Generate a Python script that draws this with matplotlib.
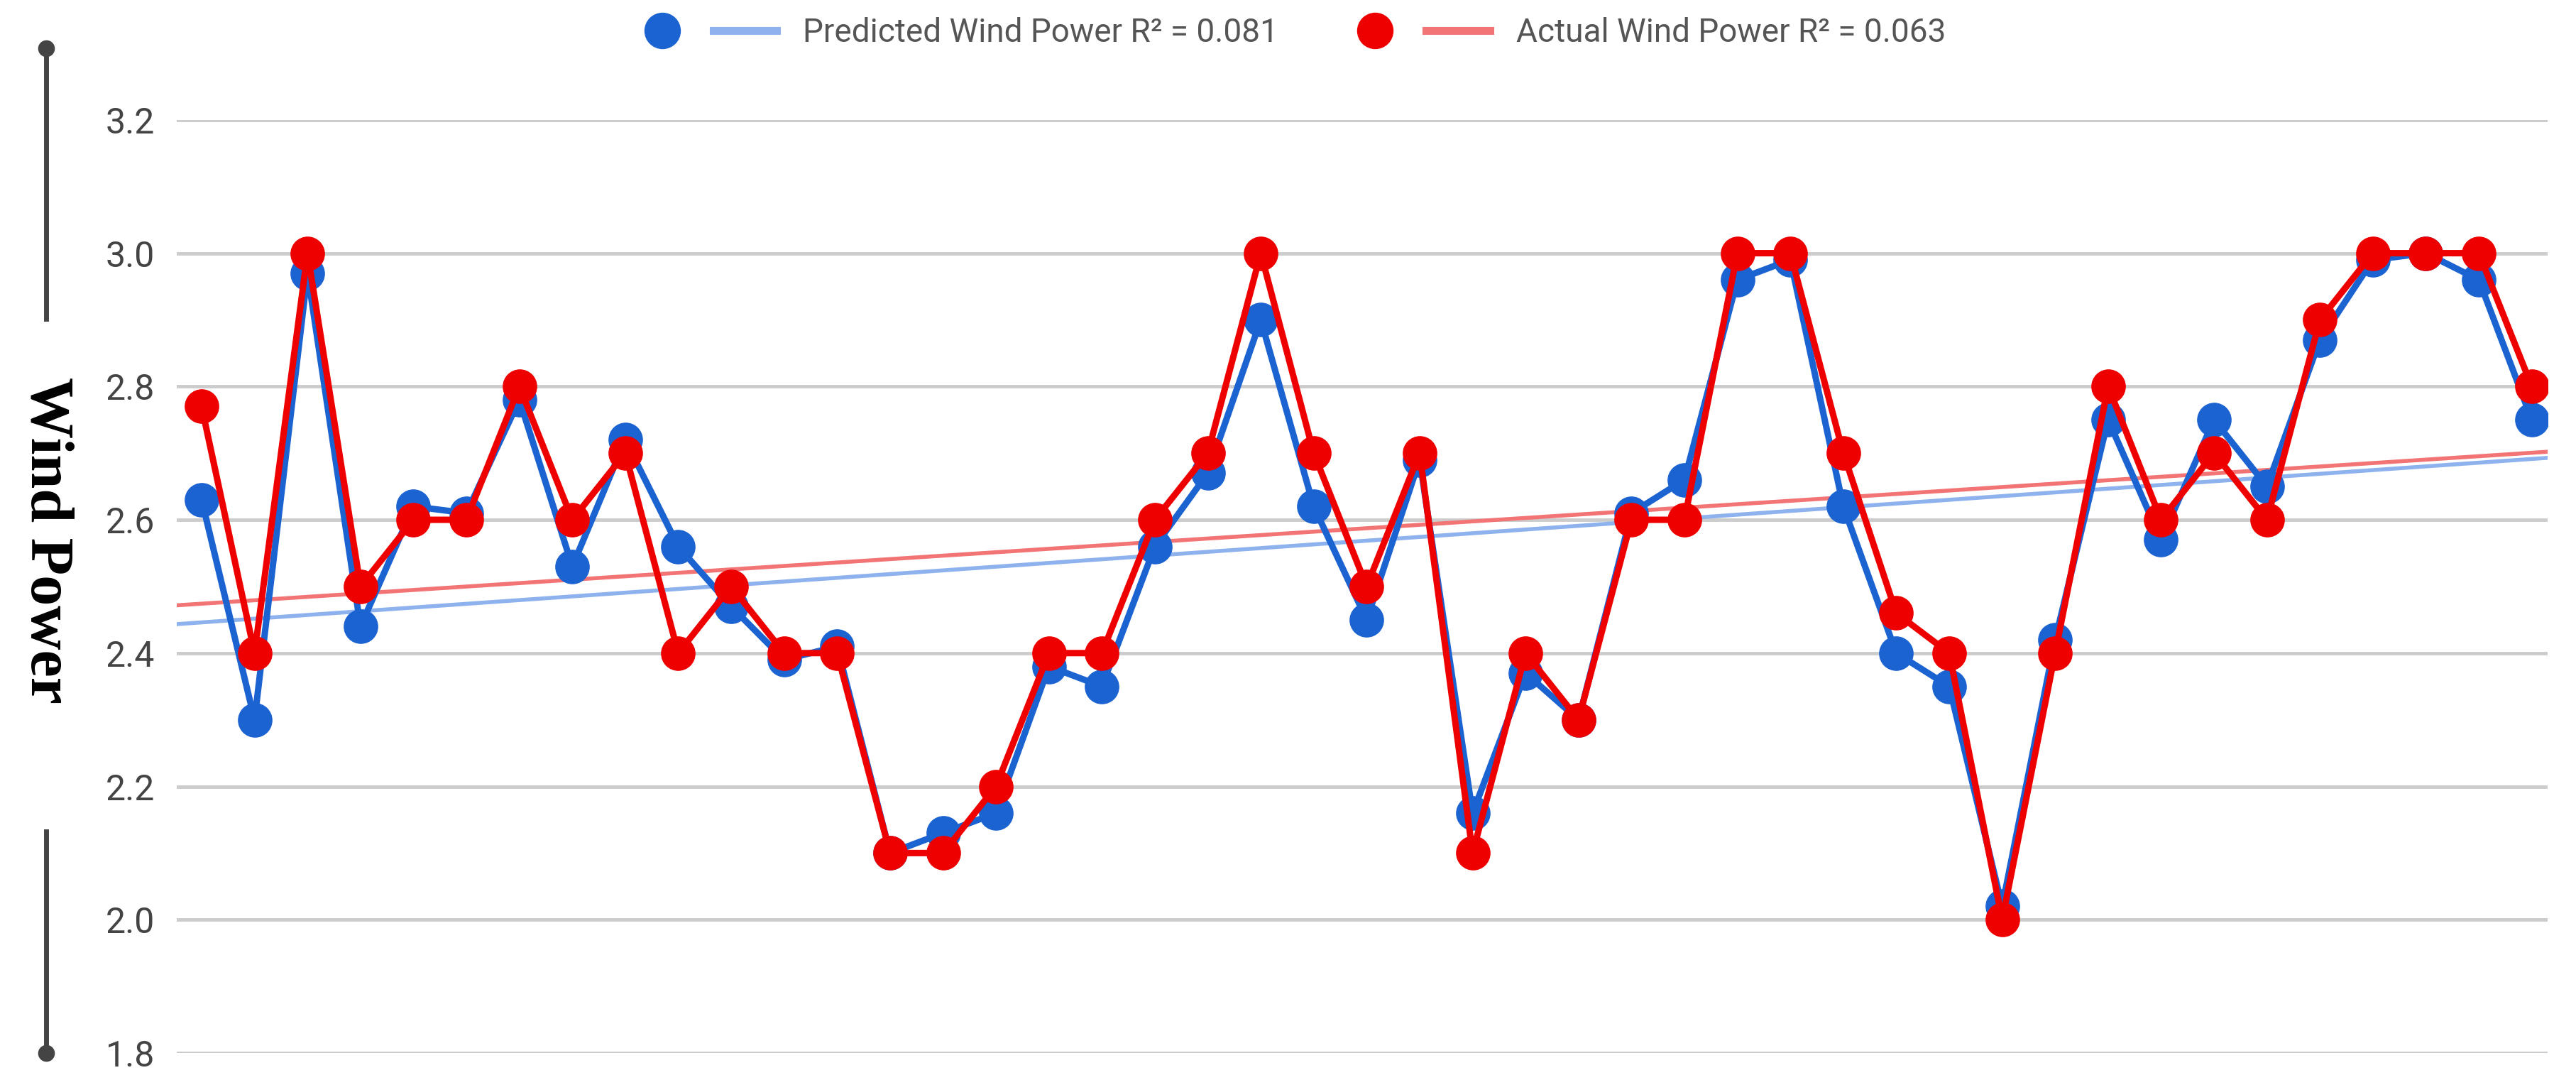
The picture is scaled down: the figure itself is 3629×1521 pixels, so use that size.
import numpy as np
import matplotlib
matplotlib.use("Agg")
import matplotlib.pyplot as plt
from matplotlib.lines import Line2D
from matplotlib.legend_handler import HandlerTuple

# values
predicted = [2.63, 2.30, 2.97, 2.44, 2.62, 2.61, 2.78, 2.53, 2.72, 2.56,
             2.47, 2.39, 2.41, 2.10, 2.13, 2.16, 2.38, 2.35, 2.56, 2.67,
             2.90, 2.62, 2.45, 2.69, 2.16, 2.37, 2.30, 2.61, 2.66, 2.96,
             2.99, 2.62, 2.40, 2.35, 2.02, 2.42, 2.75, 2.57, 2.75, 2.65,
             2.87, 2.99, 3.00, 2.96, 2.75]
actual = [2.77, 2.40, 3.00, 2.50, 2.60, 2.60, 2.80, 2.60, 2.70, 2.40,
          2.50, 2.40, 2.40, 2.10, 2.10, 2.20, 2.40, 2.40, 2.60, 2.70,
          3.00, 2.70, 2.50, 2.70, 2.10, 2.40, 2.30, 2.60, 2.60, 3.00,
          3.00, 2.70, 2.46, 2.40, 2.00, 2.40, 2.80, 2.60, 2.70, 2.60,
          2.90, 3.00, 3.00, 3.00, 2.80]
y_ticks = [1.8, 2.0, 2.2, 2.4, 2.6, 2.8, 3.0, 3.2]
pred_label = "Predicted Wind Power R² = 0.081"
act_label = "Actual Wind Power R² = 0.063"

BLUE = "#1c63d2"
RED = "#ee0000"
BLUE_TREND = "#8db2ee"
RED_TREND = "#f27474"

x = np.arange(len(actual))

fig = plt.figure(figsize=(36.29, 15.21), dpi=100)
ax = fig.add_axes([0.0686, 0.025, 0.9204, 0.864])

for vals, col, tcol in [(predicted, BLUE, BLUE_TREND), (actual, RED, RED_TREND)]:
    k, b = np.polyfit(x, vals, 1)
    xs = np.array([-0.47, 44.3])
    ax.plot(xs, k * xs + b, color=tcol, lw=4, zorder=2)

ax.plot(x, predicted, color=BLUE, lw=6.5, marker="o", markersize=34, zorder=3)
ax.plot(x, actual, color=RED, lw=6.5, marker="o", markersize=34, zorder=4)

ax.set_xlim(-0.47, 44.3)
ax.set_ylim(1.8, 3.2)
ax.set_yticks(y_ticks)
ax.set_yticklabels([f"{t:.1f}" for t in y_ticks], fontsize=36, color="#444444", family="Roboto")
ax.set_xticks([])
ax.tick_params(axis="y", length=0, pad=22)
ax.grid(axis="y", color="#cccccc", lw=3.5)
ax.set_axisbelow(True)
for s in ax.spines.values():
    s.set_visible(False)

# y-axis title with bracket lines
fig.text(0.0179, 0.5, "Wind Power", rotation=270, ha="center", va="center",
         fontsize=62, fontweight="bold", family="Liberation Serif")
for y0, y1 in [(0.955, 0.705), (0.23, 0.025)]:
    fig.add_artist(Line2D([0.0179, 0.0179], [y0, y1], color="#444444", lw=5))
fig.add_artist(Line2D([0.0179], [0.955], marker="o", markersize=16, color="#444444"))
fig.add_artist(Line2D([0.0179], [0.025], marker="o", markersize=16, color="#444444"))

h_pred = (Line2D([], [], marker="o", ls="none", color=BLUE, markersize=36),
          Line2D([], [], color=BLUE_TREND, lw=8))
h_act = (Line2D([], [], marker="o", ls="none", color=RED, markersize=36),
         Line2D([], [], color=RED_TREND, lw=8))
fig.legend([h_pred, h_act], [pred_label, act_label], ncol=2, frameon=False,
           loc="center", bbox_to_anchor=(0.5, 0.97),
           handler_map={tuple: HandlerTuple(ndivide=None, pad=0.6)},
           handlelength=4.5, columnspacing=2.0, prop={"family": "Roboto", "size": 33},
           labelcolor="#555555")

fig.savefig("out.png", dpi=100)
